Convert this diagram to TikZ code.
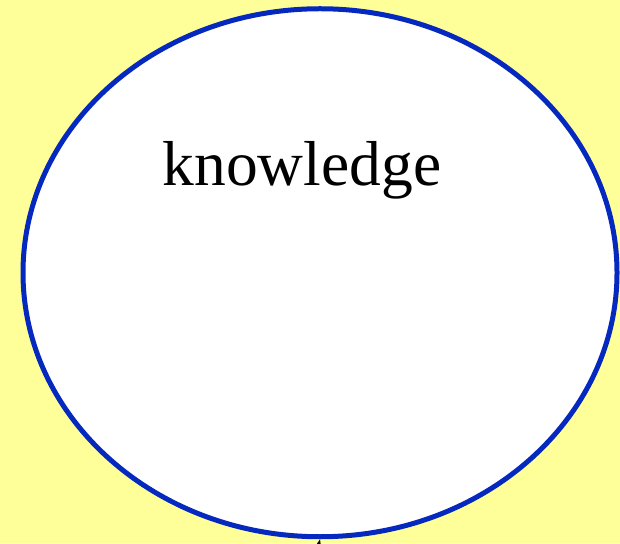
\documentclass[tikz,border=0pt]{standalone}
\usepackage{fontspec}
\setmainfont{Liberation Serif}
\usetikzlibrary{shapes.geometric,arrows.meta}
\definecolor{bgyellow}{RGB}{255,255,153}
\definecolor{ringblue}{RGB}{5,40,190}
\tikzset{
  ring/.style={ellipse, draw=ringblue, line width=5pt, fill=white,
    minimum width=594pt, minimum height=528pt, inner sep=0pt, outer sep=0pt},
  label/.style={font=\fontsize{63.5}{70}\selectfont, inner sep=0pt, anchor=base},
  link/.style={draw=black, line width=2pt, -{Stealth[length=16pt,width=12pt]}}
}
\begin{document}
\begin{tikzpicture}[x=1pt,y=1pt]
  \useasboundingbox (0,0) rectangle (620,543);
  \fill[bgyellow] (0,0) rectangle (620,543);
  \clip (0,0) rectangle (620,543);
  \coordinate (src) at (305,-60);
  \node[ring] (k) at (320,270.25) {};
  \node[label] (kt) at (302,357) {knowledge};
  \draw[link] (src) -- ([yshift=-2.5pt]k.south);
\end{tikzpicture}
\end{document}
